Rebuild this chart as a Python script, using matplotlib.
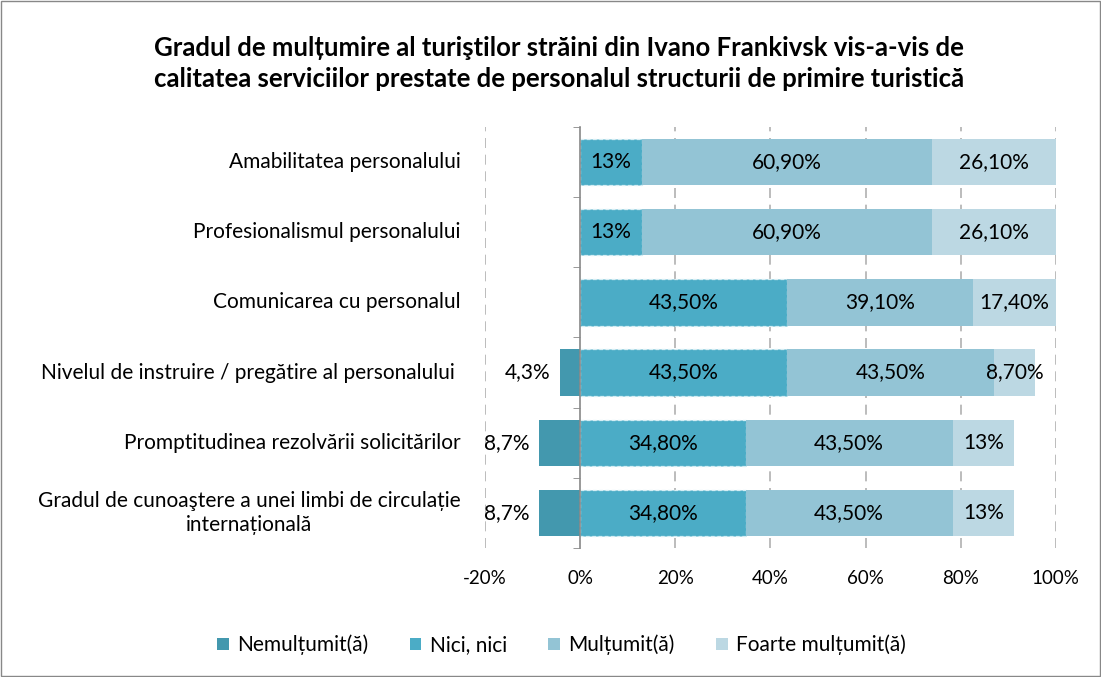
import numpy as np
import matplotlib.pyplot as plt
import matplotlib.transforms as mtransforms
from matplotlib.patches import Patch

plt.rcParams['font.family'] = ['Lato', 'DejaVu Sans']

# Data
categories = [
    'Amabilitatea personalului',
    'Profesionalismul personalului',
    'Comunicarea cu personalul',
    'Nivelul de instruire / pregătire al personalului ',
    'Promptitudinea rezolvării solicitărilor',
    'Gradul de cunoaştere a unei limbi de circulație\ninternațională',
]
series_names = ['Nemulțumit(ă)', 'Nici, nici', 'Mulțumit(ă)', 'Foarte mulțumit(ă)']
nemultumit = [0, 0, 0, 4.3, 8.7, 8.7]
nici = [13, 13, 43.5, 43.5, 34.8, 34.8]
multumit = [60.9, 60.9, 39.1, 43.5, 43.5, 43.5]
foarte = [26.1, 26.1, 17.4, 8.7, 13, 13]

nem_labels = ['', '', '', '4,3%', '8,7%', '8,7%']
nici_labels = ['13%', '13%', '43,50%', '43,50%', '34,80%', '34,80%']
mult_labels = ['60,90%', '60,90%', '39,10%', '43,50%', '43,50%', '43,50%']
foarte_labels = ['26,10%', '26,10%', '17,40%', '8,70%', '13%', '13%']

xticks = [-20, 0, 20, 40, 60, 80, 100]
xtick_labels = ['-20%', '0%', '20%', '40%', '60%', '80%', '100%']

colors = ['#4398AE', '#4BACC6', '#93C4D5', '#BCD8E3']

fig = plt.figure(figsize=(11.01, 6.77), dpi=100)
ax = fig.add_axes([0.4405, 0.1905, 0.5185, 0.622])

y = np.arange(len(categories))
h = 0.66
nem = np.array(nemultumit)
nc = np.array(nici)
mu = np.array(multumit)
fo = np.array(foarte)

b0 = ax.barh(y, -nem, height=h, color=colors[0])
b1 = ax.barh(y, nc, height=h, color=colors[1], edgecolor='#D6EEF4',
             linewidth=0.9, linestyle=(0, (3, 2)))
b2 = ax.barh(y, mu, left=nc, height=h, color=colors[2])
b3 = ax.barh(y, fo, left=nc + mu, height=h, color=colors[3])

fs = 15
for i in range(len(categories)):
    if nem[i] > 0:
        ax.annotate(nem_labels[i], (-nem[i], y[i]), xytext=(-7, 0),
                    textcoords='offset points', ha='right', va='center', fontsize=fs)
    ax.text(nc[i] / 2, y[i], nici_labels[i], ha='center', va='center', fontsize=fs)
    ax.text(nc[i] + mu[i] / 2, y[i], mult_labels[i], ha='center', va='center', fontsize=fs)
    ax.text(nc[i] + mu[i] + fo[i] / 2, y[i], foarte_labels[i], ha='center', va='center', fontsize=fs)

# category labels at the left of the plot area
trans = mtransforms.blended_transform_factory(ax.transAxes, ax.transData)
for i, c in enumerate(categories):
    ax.text(-0.043, y[i], c, transform=trans, ha='right', va='center',
            multialignment='center', fontsize=fs, linespacing=1.25)

ax.set_xlim(-20, 100)
ax.set_ylim(len(categories) - 0.5, -0.5)
ax.set_xticks(xticks)
ax.set_xticklabels(xtick_labels, fontsize=13.5)
ax.tick_params(axis='x', length=0, pad=16)
ax.set_yticks([])
ax.set_yticks(np.arange(len(categories) + 1) - 0.5, minor=True)
ax.tick_params(axis='y', which='minor', length=5, color='#888888', labelleft=False)

for x in xticks:
    if x != 0:
        ax.axvline(x, color='#B0B0B0', linestyle=(0, (6, 4)), linewidth=1.2, zorder=0)

for s in ['top', 'right', 'bottom']:
    ax.spines[s].set_visible(False)
ax.spines['left'].set_position(('data', 0))
ax.spines['left'].set_color('#888888')
ax.spines['left'].set_linewidth(1.2)

fig.text(0.508, 0.9055, 'Gradul de mulțumire al turiştilor străini din Ivano Frankivsk vis-a-vis de\n'
         'calitatea serviciilor prestate de personalul structurii de primire turistică',
         ha='center', va='center', fontsize=18.5, fontweight='bold', linespacing=1.35)

handles = [Patch(facecolor=c) for c in colors]
fig.legend(handles, series_names, loc='center', bbox_to_anchor=(0.51, 0.047), ncol=4,
           frameon=False, fontsize=15, handlelength=0.55, handleheight=0.55,
           handletextpad=0.4, columnspacing=2.0)

# figure border
fig.patches.append(plt.Rectangle((0.001, 0.001), 0.998, 0.998, transform=fig.transFigure,
                                 fill=False, edgecolor='#888888', linewidth=1))

fig.savefig('out.png', dpi=100)
